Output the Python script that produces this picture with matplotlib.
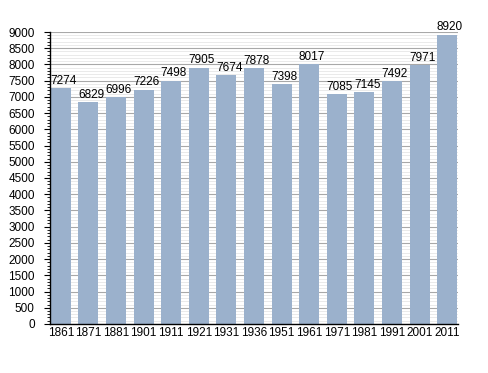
import matplotlib
matplotlib.use("Agg")
import matplotlib.pyplot as plt
from matplotlib.ticker import MultipleLocator

years = ["1861", "1871", "1881", "1901", "1911", "1921", "1931", "1936",
         "1951", "1961", "1971", "1981", "1991", "2001", "2011"]
population = [7274, 6829, 6996, 7226, 7498, 7905, 7674, 7878,
              7398, 8017, 7085, 7145, 7492, 7971, 8920]

plt.rcParams['font.family'] = ['Liberation Sans', 'DejaVu Sans']

fig = plt.figure(figsize=(4.88, 3.73), dpi=100)
ax = fig.add_axes([0.1025, 0.1314, 0.836, 0.7828])

w = 0.725
pos = list(range(len(years)))
ax.bar(pos, population, width=w, color='#9bb1cc', zorder=3)
for x, v in zip(pos, population):
    ax.text(x + 0.1, v + 40, str(v), ha='center', va='bottom', fontsize=8.5, zorder=4)

ax.set_xlim(-w / 2 - 0.03, len(years) - 1 + w / 2 + 0.03)
ax.set_ylim(0, 9000)
ax.set_xticks(pos)
ax.set_xticklabels(years, fontsize=8.5)
ax.yaxis.set_major_locator(MultipleLocator(500))
ax.yaxis.set_minor_locator(MultipleLocator(100))
ax.tick_params(axis='y', labelsize=8.5, length=4, width=0.8, pad=7)
ax.tick_params(axis='y', which='minor', length=2, width=0.6)
ax.tick_params(axis='x', length=0, pad=2)
ax.grid(axis='y', which='major', color='#a8a8a8', linewidth=0.8, zorder=0)
ax.grid(axis='y', which='minor', color='#e6e6e6', linewidth=0.6, zorder=0)
for s in ['top', 'right']:
    ax.spines[s].set_visible(False)
ax.spines['left'].set_linewidth(1.0)
ax.spines['bottom'].set_linewidth(1.0)
ax.spines['left'].set_zorder(5)
ax.spines['bottom'].set_zorder(5)

fig.savefig("out.png", dpi=100)
